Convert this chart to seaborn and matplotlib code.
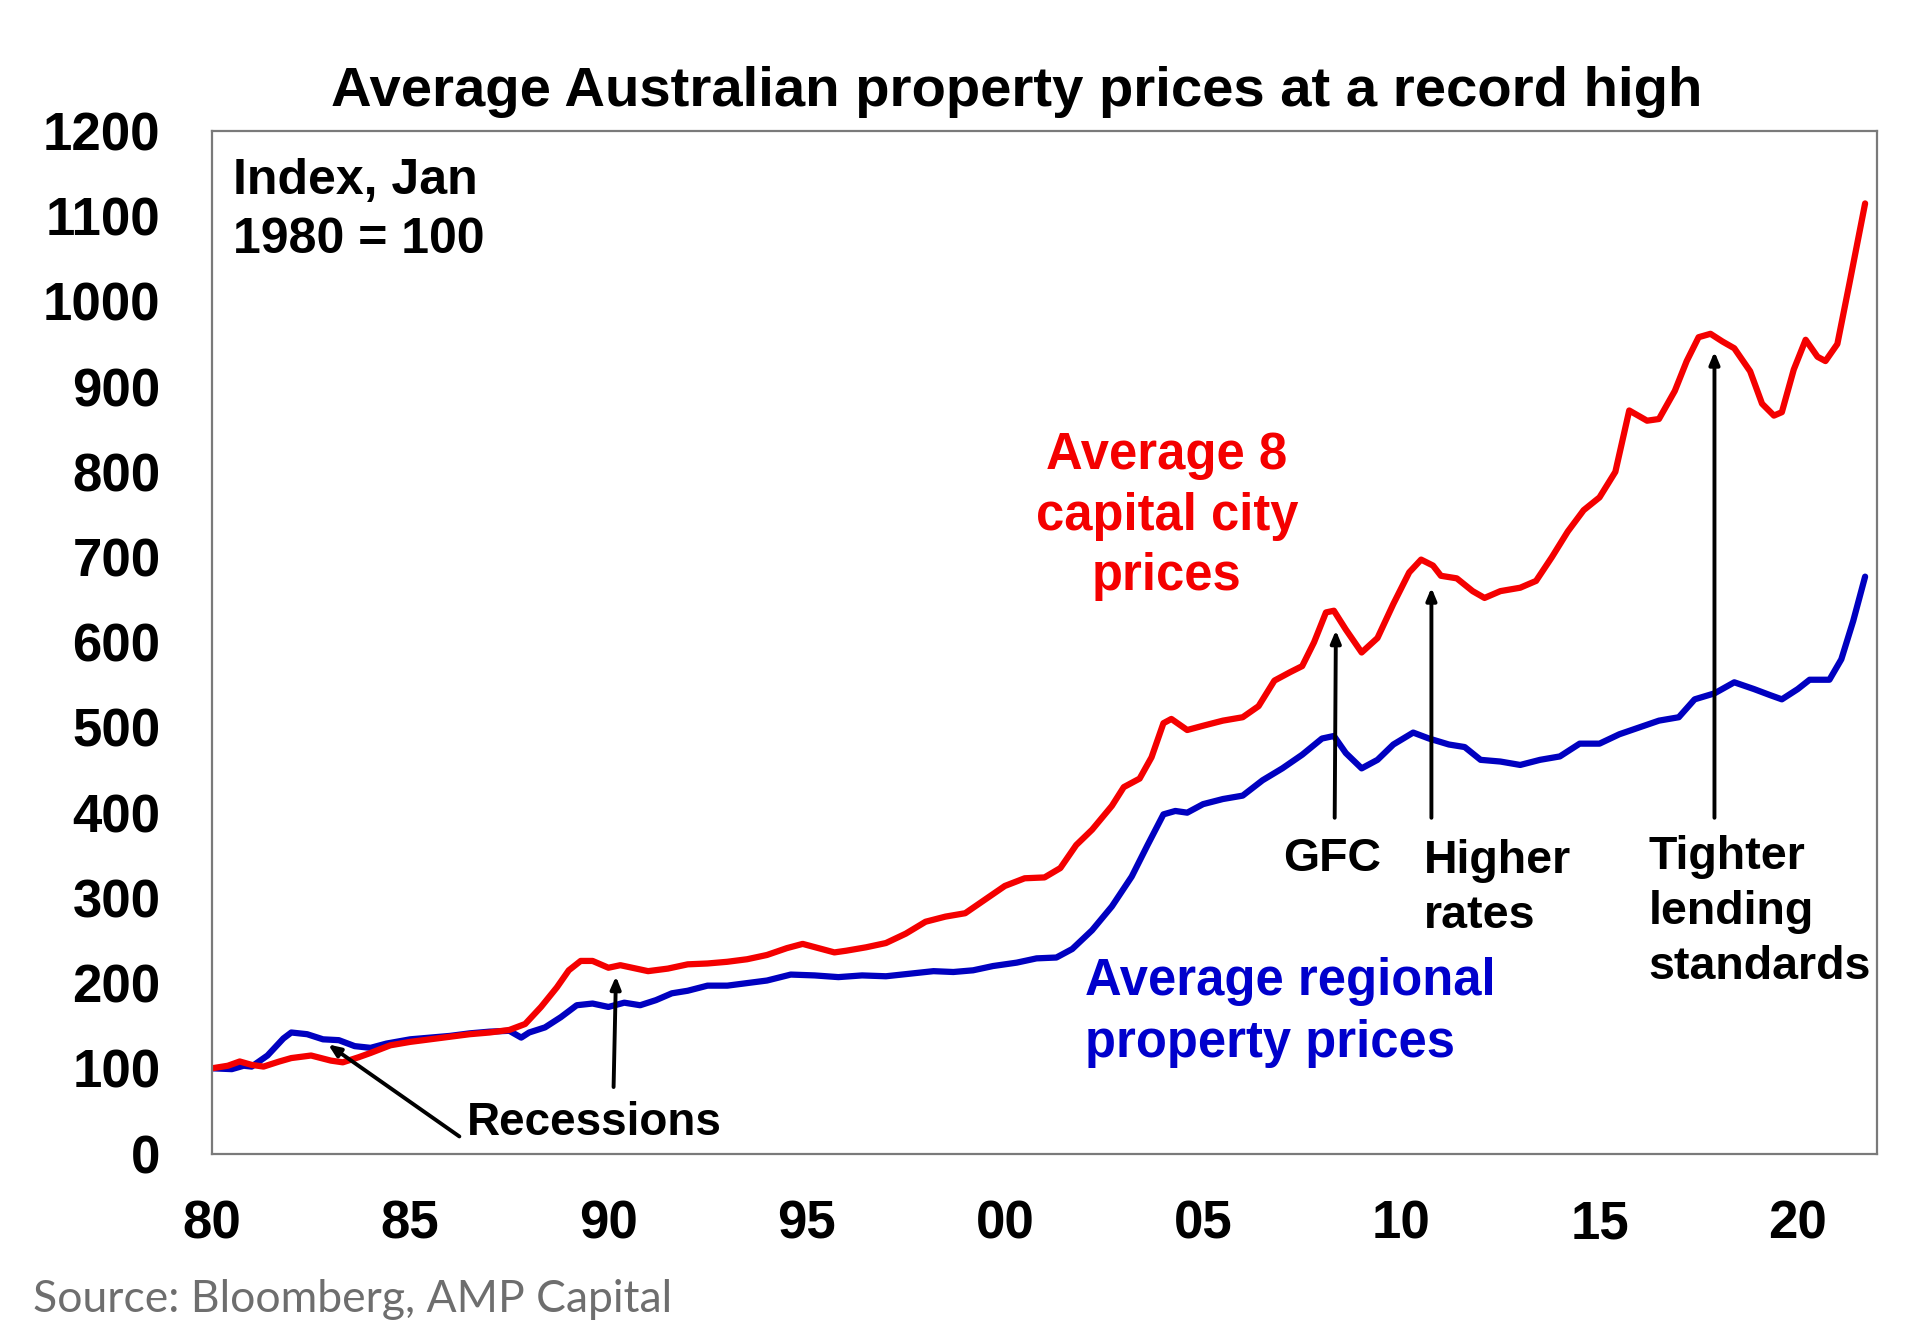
import matplotlib
matplotlib.use("Agg")
import matplotlib.pyplot as plt
import seaborn as sns
import pandas as pd

# ---- data ----
cap_years = [1980.0, 1980.4, 1980.7, 1981.0, 1981.3, 1981.7, 1982.0, 1982.5, 1983.0, 1983.3,
             1983.7, 1984.0, 1984.5, 1985.0, 1985.5, 1986.0, 1986.5, 1987.0, 1987.5, 1987.9,
             1988.3, 1988.7, 1989.0, 1989.3, 1989.6, 1990.0, 1990.3, 1990.6, 1991.0, 1991.5,
             1992.0, 1992.5, 1993.0, 1993.5, 1994.0, 1994.5, 1994.9, 1995.3, 1995.7, 1996.0,
             1996.5, 1997.0, 1997.5, 1998.0, 1998.5, 1999.0, 1999.5, 2000.0, 2000.5, 2001.0,
             2001.4, 2001.8, 2002.2, 2002.7, 2003.0, 2003.4, 2003.7, 2004.0, 2004.2, 2004.6,
             2005.0, 2005.5, 2006.0, 2006.4, 2006.8, 2007.2, 2007.5, 2007.8, 2008.1, 2008.3,
             2008.6, 2009.0, 2009.4, 2009.8, 2010.2, 2010.5, 2010.8, 2011.0, 2011.4, 2011.8,
             2012.1, 2012.5, 2013.0, 2013.4, 2013.8, 2014.2, 2014.6, 2015.0, 2015.4, 2015.75,
             2016.2, 2016.5, 2016.9, 2017.2, 2017.5, 2017.8, 2018.1, 2018.4, 2018.8, 2019.1,
             2019.4, 2019.6, 2019.9, 2020.2, 2020.5, 2020.7, 2021.0, 2021.3, 2021.7]
cap_values = [100, 103, 108, 104, 102, 108, 112, 115, 109, 107,
              113, 118, 127, 131, 134, 137, 140, 142, 145, 152,
              172, 195, 215, 226, 226, 218, 221, 218, 214, 217,
              222, 223, 225, 228, 233, 241, 246, 241, 236, 238,
              242, 247, 258, 272, 278, 282, 298, 314, 323, 324,
              335, 362, 380, 408, 430, 440, 465, 505, 510, 497,
              502, 508, 512, 525, 555, 565, 572, 600, 635, 637,
              615, 588, 605, 645, 682, 697, 690, 678, 675, 660,
              652, 660, 664, 672, 700, 730, 755, 770, 800, 872,
              860, 862, 895, 930, 958, 962, 953, 945, 918, 880,
              866, 870, 920, 955, 935, 930, 950, 1020, 1115]

reg_years = [1980.0, 1980.5, 1980.8, 1981.0, 1981.4, 1981.8, 1982.0, 1982.4, 1982.8, 1983.2,
             1983.6, 1984.0, 1984.4, 1985.0, 1985.5, 1986.0, 1986.5, 1987.0, 1987.5, 1987.8,
             1988.0, 1988.4, 1988.8, 1989.2, 1989.6, 1990.0, 1990.4, 1990.8, 1991.2, 1991.6,
             1992.0, 1992.5, 1993.0, 1993.5, 1994.0, 1994.6, 1995.2, 1995.8, 1996.4, 1997.0,
             1997.6, 1998.2, 1998.7, 1999.2, 1999.7, 2000.3, 2000.8, 2001.3, 2001.7, 2002.2,
             2002.7, 2003.2, 2003.6, 2004.0, 2004.3, 2004.6, 2005.0, 2005.5, 2006.0, 2006.5,
             2007.0, 2007.5, 2008.0, 2008.3, 2008.6, 2009.0, 2009.4, 2009.8, 2010.3, 2010.7,
             2011.2, 2011.6, 2012.0, 2012.5, 2013.0, 2013.5, 2014.0, 2014.5, 2015.0, 2015.5,
             2016.0, 2016.5, 2017.0, 2017.4, 2017.9, 2018.4, 2018.9, 2019.3, 2019.6, 2020.0,
             2020.3, 2020.8, 2021.1, 2021.4, 2021.7]
reg_values = [100, 99, 103, 102, 115, 135, 142, 140, 134, 133,
              126, 124, 129, 134, 136, 138, 141, 143, 144, 136,
              142, 148, 160, 174, 176, 172, 177, 174, 180, 188,
              191, 197, 197, 200, 203, 210, 209, 207, 209, 208,
              211, 214, 213, 215, 220, 224, 229, 230, 240, 262,
              290, 325, 362, 398, 402, 400, 410, 416, 420, 438,
              452, 468, 487, 490, 470, 452, 462, 480, 494, 487,
              480, 477, 462, 460, 456, 462, 466, 481, 481, 492,
              500, 508, 512, 533, 540, 553, 545, 538, 533, 545,
              556, 556, 580, 625, 677]

y_ticks = [0, 100, 200, 300, 400, 500, 600, 700, 800, 900, 1000, 1100, 1200]
x_ticks = [1980, 1985, 1990, 1995, 2000, 2005, 2010, 2015, 2020]
x_tick_labels = ["80", "85", "90", "95", "00", "05", "10", "15", "20"]

RED = "#f40000"
BLUE = "#0000c0"

sns.set_theme(style="white")
plt.rcParams["font.family"] = ["Liberation Sans", "DejaVu Sans"]
plt.rcParams["font.weight"] = "bold"
plt.rcParams["lines.solid_joinstyle"] = "round"
plt.rcParams["lines.solid_capstyle"] = "round"

df = pd.concat([
    pd.DataFrame({"year": reg_years, "index": reg_values, "series": "regional"}),
    pd.DataFrame({"year": cap_years, "index": cap_values, "series": "capital"}),
])

fig = plt.figure(figsize=(19.2, 13.42), dpi=100)
ax = fig.add_axes([212 / 1920, 1 - 1153.5 / 1342, 1665 / 1920, 1022.5 / 1342])

sns.lineplot(data=df, x="year", y="index", hue="series",
             palette={"regional": BLUE, "capital": RED},
             linewidth=4.5, legend=False, ax=ax, sort=True, estimator=None)

ax.set_xlim(1980, 2022)
ax.set_ylim(0, 1200)
ax.set_yticks(y_ticks)
ax.set_yticklabels([str(v) for v in y_ticks])
ax.set_xticks(x_ticks)
ax.set_xticklabels(x_tick_labels)
ax.set_xlabel("")
ax.set_ylabel("")

for s in ax.spines.values():
    s.set_visible(True)
    s.set_color("#7a7a7a")
    s.set_linewidth(1.6)

ax.tick_params(axis="both", which="major", direction="out", length=9, width=1.6,
               color="#7a7a7a", labelsize=38, labelcolor="black")
ax.tick_params(axis="y", pad=28)
ax.tick_params(axis="x", pad=24)
for lab in ax.get_xticklabels() + ax.get_yticklabels():
    lab.set_fontweight("bold")

# title
fig.text(1017 / 1920, 1 - 92 / 1342, "Average Australian property prices at a record high",
         ha="center", va="center", fontsize=40.5, fontweight="bold", color="black")

# annotations
ax.text(1980.53, 1168, "Index, Jan\n1980 = 100", ha="left", va="top",
        fontsize=36, fontweight="bold", color="black", linespacing=1.35)
ax.text(2004.09, 748, "Average 8\ncapital city\nprices", ha="center", va="center",
        multialignment="center", fontsize=36.5, fontweight="bold", color=RED, linespacing=1.3)
ax.text(2002.02, 165, "Average regional\nproperty prices", ha="left", va="center",
        fontsize=36.5, fontweight="bold", color="#0000cc", linespacing=1.34)
ax.text(2008.26, 346, "GFC", ha="center", va="center",
        fontsize=33.5, fontweight="bold", color="black")
ax.text(2010.58, 311, "Higher\nrates", ha="left", va="center",
        fontsize=33.5, fontweight="bold", color="black", linespacing=1.32)
ax.text(2016.23, 283, "Tighter\nlending\nstandards", ha="left", va="center",
        fontsize=33.5, fontweight="bold", color="black", linespacing=1.32)
ax.text(1986.42, 36, "Recessions", ha="left", va="center",
        fontsize=33, fontweight="bold", color="black")

arrow_kw = dict(arrowstyle="-|>,head_length=0.6,head_width=0.25", color="black", lw=2.8,
                shrinkA=0, shrinkB=0)
arrows = [((1986.24, 20), (1982.93, 128)),
          ((1990.13, 78), (1990.19, 208)),
          ((2008.32, 394), (2008.35, 614)),
          ((2010.76, 394), (2010.76, 664)),
          ((2017.90, 394), (2017.90, 941))]
for tail, head in arrows:
    ax.annotate("", xy=head, xytext=tail, arrowprops=arrow_kw)

fig.text(33 / 1920, 1 - 1300 / 1342, "Source: Bloomberg, AMP Capital", ha="left", va="center",
         fontsize=32, fontweight="normal", family=["Lato", "DejaVu Sans"], color="#6e6e6e")

fig.savefig("out.png", dpi=100, facecolor="white")
